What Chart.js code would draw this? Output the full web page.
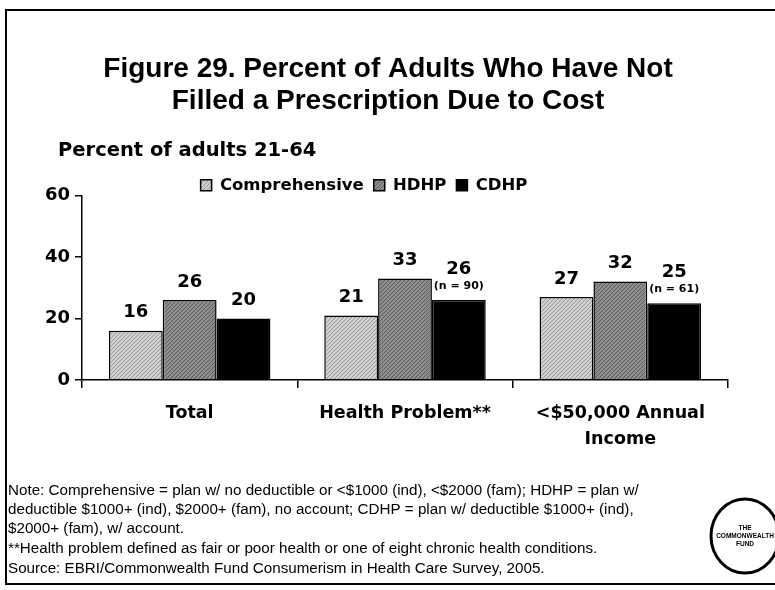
<!DOCTYPE html>
<html>
<head>
<meta charset="utf-8">
<script src="https://cdn.jsdelivr.net/npm/chart.js@4.4.0/dist/chart.umd.min.js"></script>
<style>
    html, body { margin: 0; padding: 0; background: #fff; }
    #chart-container { width: 775px; height: 590px; }
</style>
</head>
<body>
<div id="chart-container"><canvas id="barChart" width="775" height="590"></canvas></div>
<script>
const categories = ["Total", "Health Problem**", ["<$50,000 Annual", "Income"]];
const seriesNames = ["Comprehensive", "HDHP", "CDHP"];
const comprehensive = [16, 21, 27];
const hdhp = [26, 33, 32];
const cdhp = [20, 26, 25];
const cdhpNotes = ["", "(n = 90)", "(n = 61)"];
const yTicks = [0, 20, 40, 60];

const titleLines = [
    "Figure 29. Percent of Adults Who Have Not",
    "Filled a Prescription Due to Cost"
];
const axisTitle = "Percent of adults 21-64";
const noteLines = [
    "Note: Comprehensive = plan w/ no deductible or <$1000 (ind), <$2000 (fam); HDHP = plan w/",
    "deductible $1000+ (ind), $2000+ (fam), no account; CDHP = plan w/ deductible $1000+ (ind),",
    "$2000+ (fam), w/ account.",
    "**Health problem defined as fair or poor health or one of eight chronic health conditions.",
    "Source: EBRI/Commonwealth Fund Consumerism in Health Care Survey, 2005."
];

const BOLD = "'DejaVu Sans', sans-serif";

// halftone-looking fill, like the scanned original
function makePattern(light, dark) {
    const c = document.createElement("canvas");
    c.width = 4;
    c.height = 4;
    const g = c.getContext("2d");
    g.fillStyle = light;
    g.fillRect(0, 0, 4, 4);
    g.fillStyle = dark;
    g.fillRect(0, 0, 1, 1);
    g.fillRect(2, 2, 1, 1);
    g.fillRect(1, 3, 1, 1);
    g.fillRect(3, 1, 1, 1);
    return g.createPattern(c, "repeat");
}

// legend sits closer to the plot than Chart.js allows by default
const legendNudge = {
    id: "legendNudge",
    afterLayout(chart) {
        if (chart.legend) {
            chart.legend.top += 8;
            chart.legend.bottom += 8;
        }
    }
};

const pageDecor = {
    id: "pageDecor",
    beforeDraw(chart) {
        const ctx = chart.ctx;
        ctx.save();
        ctx.fillStyle = "#fff";
        ctx.fillRect(0, 0, chart.width, chart.height);
        ctx.strokeStyle = "#000";
        ctx.lineWidth = 2;
        ctx.strokeRect(6, 10, 800, 574);
        ctx.restore();
    },
    afterDraw(chart) {
        const ctx = chart.ctx;
        ctx.save();
        ctx.fillStyle = "#000";
        ctx.textBaseline = "middle";

        ctx.textAlign = "center";
        ctx.font = "bold 28px 'Liberation Sans', Arial, sans-serif";
        ctx.fillText(titleLines[0], 388, 69);
        ctx.fillText(titleLines[1], 388, 101);

        ctx.textAlign = "left";
        ctx.font = "bold 19.5px " + BOLD;
        ctx.fillText(axisTitle, 58, 151);

        ctx.font = "15.2px 'Liberation Sans', Arial, sans-serif";
        const noteY = [491, 510, 529, 549, 569];
        noteLines.forEach((line, i) => ctx.fillText(line, 8, noteY[i]));

        // logo
        ctx.lineWidth = 3;
        ctx.beginPath();
        ctx.ellipse(745, 536, 34, 37, 0, 0, Math.PI * 2);
        ctx.stroke();
        ctx.textAlign = "center";
        ctx.font = "bold 6.5px 'Liberation Sans', Arial, sans-serif";
        ctx.fillText("THE", 745, 528);
        ctx.fillText("COMMONWEALTH", 745, 536);
        ctx.fillText("FUND", 745, 544);
        ctx.restore();
    }
};

const barLabels = {
    id: "barLabels",
    afterDatasetsDraw(chart) {
        const ctx = chart.ctx;
        ctx.save();
        ctx.fillStyle = "#000";
        ctx.textAlign = "center";
        ctx.textBaseline = "middle";
        chart.data.datasets.forEach((ds, di) => {
            chart.getDatasetMeta(di).data.forEach((bar, i) => {
                const note = di === 2 ? cdhpNotes[i] : "";
                ctx.font = "bold 18px " + BOLD;
                if (note) {
                    ctx.fillText(ds.data[i], bar.x, bar.y - 31);
                    ctx.font = "bold 11px " + BOLD;
                    ctx.fillText(note, bar.x, bar.y - 14);
                } else {
                    ctx.fillText(ds.data[i], bar.x, bar.y - 18);
                }
            });
        });
        ctx.restore();
    }
};

const ctx = document.getElementById("barChart").getContext("2d");
new Chart(ctx, {
    type: "bar",
    data: {
        labels: categories,
        datasets: [
            {
                label: seriesNames[0],
                data: comprehensive,
                backgroundColor: makePattern("#cfcfcf", "#9a9a9a"),
                borderColor: "#000",
                borderWidth: 1.5
            },
            {
                label: seriesNames[1],
                data: hdhp,
                backgroundColor: makePattern("#8e8e8e", "#5a5a5a"),
                borderColor: "#000",
                borderWidth: 1.5
            },
            {
                label: seriesNames[2],
                data: cdhp,
                backgroundColor: "#000",
                borderColor: "#000",
                borderWidth: 1.5
            }
        ]
    },
    options: {
        responsive: false,
        animation: false,
        devicePixelRatio: 1,
        categoryPercentage: 0.75,
        barPercentage: 1,
        layout: {
            padding: { top: 159, right: 47, left: 0, bottom: 0 }
        },
        plugins: {
            title: { display: false },
            tooltip: { enabled: false },
            legend: {
                position: "top",
                align: "center",
                labels: {
                    boxWidth: 11,
                    boxHeight: 11,
                    padding: 10,
                    color: "#000",
                    font: { family: BOLD, weight: "bold", size: 16.5 }
                }
            }
        },
        scales: {
            x: {
                afterFit(scale) { scale.height = 210; },
                grid: {
                    offset: true,
                    drawOnChartArea: false,
                    drawTicks: true,
                    tickLength: 8,
                    color: "#000",
                    lineWidth: 1.5
                },
                border: { display: true, color: "#000", width: 1.5 },
                ticks: {
                    color: "#000",
                    padding: 12,
                    font: { family: BOLD, weight: "bold", size: 17.5, lineHeight: 1.5 }
                }
            },
            y: {
                min: 0,
                max: 60,
                afterFit(scale) { scale.width = 82; },
                afterBuildTicks(scale) { scale.ticks = yTicks.map(v => ({ value: v })); },
                grid: {
                    drawOnChartArea: false,
                    drawTicks: true,
                    tickLength: 7,
                    color: "#000",
                    lineWidth: 1.5
                },
                border: { display: true, color: "#000", width: 1.5 },
                ticks: {
                    color: "#000",
                    padding: 5,
                    font: { family: BOLD, weight: "bold", size: 18 }
                }
            }
        }
    },
    plugins: [legendNudge, pageDecor, barLabels]
});
</script>
</body>
</html>
